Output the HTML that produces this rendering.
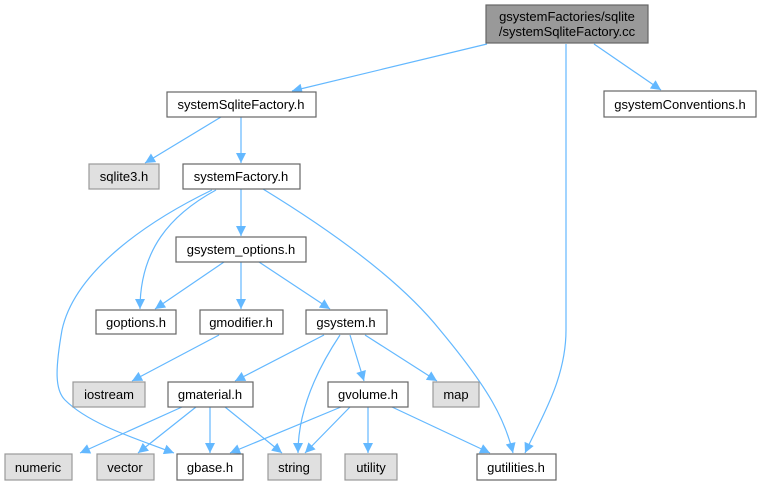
<!DOCTYPE html>
<html><head><meta charset="utf-8"><style>
html,body{margin:0;padding:0;background:#fff;}
svg{display:block;}
text{font-family:"Liberation Sans",Arial,sans-serif;font-size:13px;fill:#000;text-anchor:middle;}
.w{fill:#fff;stroke:#666;stroke-width:1.2;}
.g{fill:#e0e0e0;stroke:#999;stroke-width:1.2;}
.e{fill:none;stroke:#63b8ff;stroke-width:1.2;}
</style></head><body>
<svg width="762" height="485" viewBox="0 0 762 485" xmlns="http://www.w3.org/2000/svg">
<defs><marker id="a" viewBox="0 0 10 10" refX="10" refY="5" markerWidth="11" markerHeight="10" markerUnits="userSpaceOnUse" orient="auto"><path d="M0,0 L10,5 L0,10 z" fill="#63b8ff"/></marker></defs>
<g marker-end="url(#a)">
<path class="e" d="M487,44 L292,91"/>
<path class="e" d="M594,44 L661,90"/>
<path class="e" d="M566,44 L566,330 C566,380 540,420 525,453"/>
<path class="e" d="M221,117 L145,163"/>
<path class="e" d="M241,117 L241,163"/>
<path class="e" d="M241,189 L241,236"/>
<path class="e" d="M216,190 C170,215 140,250 140,309"/>
<path class="e" d="M212,190 C150,220 75,270 62,330 C55,370 55,390 65,400 C90,425 140,440 174,453"/>
<path class="e" d="M263,189 C330,230 400,280 440,330 C490,390 505,420 513,453"/>
<path class="e" d="M224,262 L155,309"/>
<path class="e" d="M241,262 L241,309"/>
<path class="e" d="M259,262 L330,309"/>
<path class="e" d="M219,335 L132,381"/>
<path class="e" d="M324,335 L235,381"/>
<path class="e" d="M340,335 C310,380 298,420 298,453"/>
<path class="e" d="M350,335 L364,381"/>
<path class="e" d="M365,335 L437,381"/>
<path class="e" d="M182,407 L80,453"/>
<path class="e" d="M196,407 L138,453"/>
<path class="e" d="M210,407 L210,453"/>
<path class="e" d="M225,407 L282,453"/>
<path class="e" d="M341,407 L230,453"/>
<path class="e" d="M350,407 L305,453"/>
<path class="e" d="M368,407 L368,453"/>
<path class="e" d="M392,407 L490,453"/>
</g>
<rect x="486" y="5" width="162" height="38" fill="#999" stroke="#666" stroke-width="1.2"/>
<text x="567" y="21">gsystemFactories/sqlite</text>
<text x="567" y="36">/systemSqliteFactory.cc</text>
<rect class="w" x="167" y="92" width="149" height="25"/><text x="241" y="109">systemSqliteFactory.h</text>
<rect class="w" x="604" y="91" width="152" height="26"/><text x="680" y="109">gsystemConventions.h</text>
<rect class="g" x="89" y="164" width="70" height="25"/><text x="124" y="181">sqlite3.h</text>
<rect class="w" x="183" y="164" width="117" height="25"/><text x="241" y="181">systemFactory.h</text>
<rect class="w" x="176" y="237" width="130" height="25"/><text x="241" y="254">gsystem_options.h</text>
<rect class="w" x="96" y="310" width="80" height="24"/><text x="136" y="327">goptions.h</text>
<rect class="w" x="200" y="310" width="83" height="24"/><text x="241" y="327">gmodifier.h</text>
<rect class="w" x="306" y="310" width="81" height="24"/><text x="346" y="327">gsystem.h</text>
<rect class="g" x="73" y="382" width="72" height="25"/><text x="109" y="399">iostream</text>
<rect class="w" x="168" y="382" width="85" height="25"/><text x="210" y="399">gmaterial.h</text>
<rect class="w" x="328" y="382" width="80" height="25"/><text x="368" y="399">gvolume.h</text>
<rect class="g" x="433" y="382" width="46" height="25"/><text x="456" y="399">map</text>
<rect class="g" x="5" y="454" width="67" height="26"/><text x="38" y="472">numeric</text>
<rect class="g" x="97" y="454" width="57" height="26"/><text x="125" y="472">vector</text>
<rect class="w" x="177" y="454" width="66" height="26"/><text x="210" y="472">gbase.h</text>
<rect class="g" x="268" y="454" width="53" height="26"/><text x="294" y="472">string</text>
<rect class="g" x="345" y="454" width="52" height="26"/><text x="371" y="472">utility</text>
<rect class="w" x="477" y="454" width="79" height="26"/><text x="516" y="472">gutilities.h</text>
</svg>
</body></html>
